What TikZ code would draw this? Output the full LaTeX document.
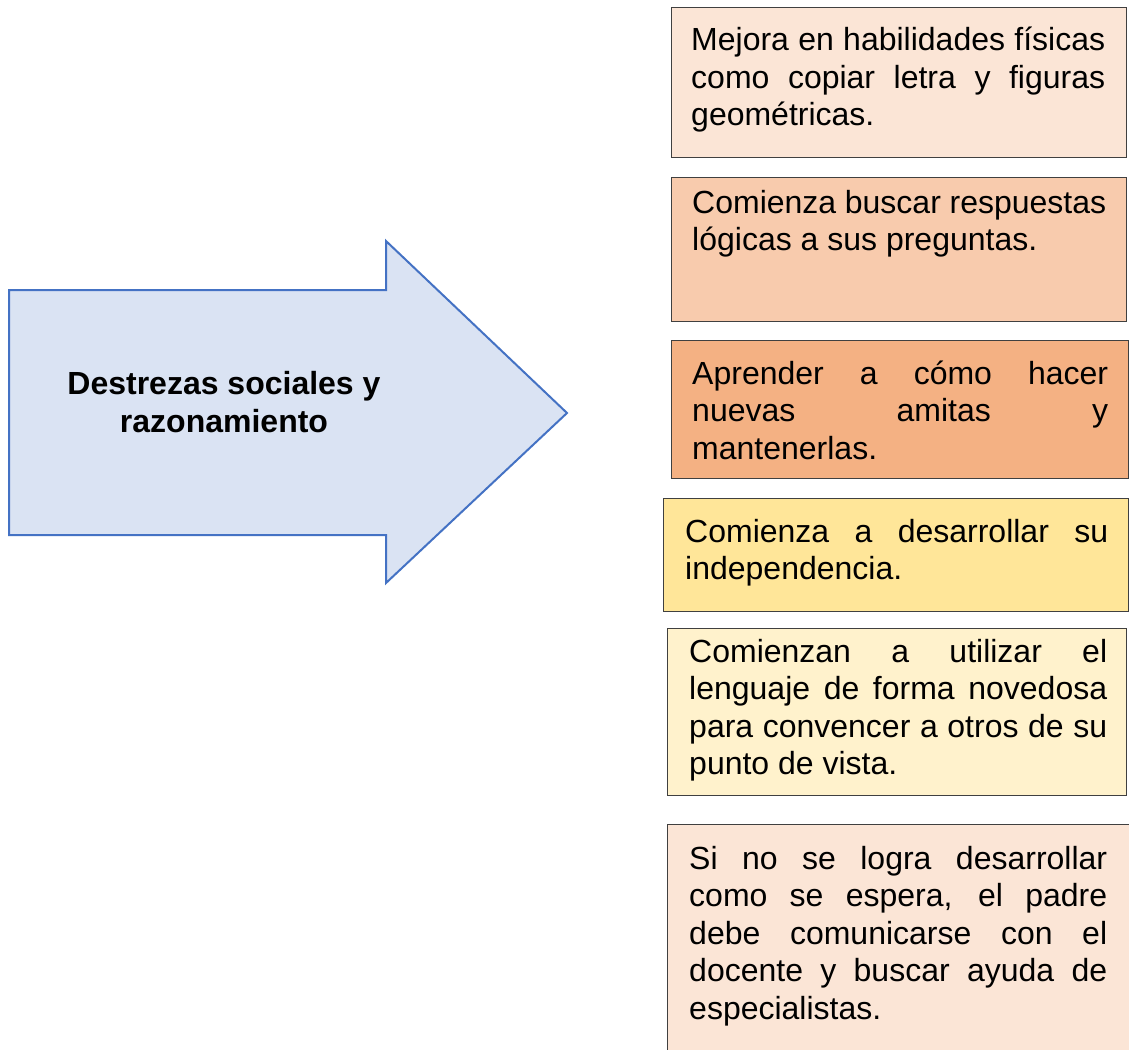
\documentclass[tikz,border=0pt]{standalone}
\usepackage{fontspec}
\setmainfont{Liberation Sans}
\usetikzlibrary{calc}

\definecolor{arrowline}{HTML}{4472C4}
\definecolor{arrowfill}{HTML}{DAE3F3}
\definecolor{boxline}{HTML}{404040}
\definecolor{peachA}{HTML}{FBE5D6}
\definecolor{peachB}{HTML}{F8CBAD}
\definecolor{peachC}{HTML}{F4B183}
\definecolor{goldA}{HTML}{FFE699}
\definecolor{goldB}{HTML}{FFF2CC}

\tikzset{
  item/.style={draw=boxline,line width=1.3pt,anchor=north west,inner sep=0pt},
  itemtext/.style={anchor=base west,inner sep=0pt,align=justify,
    font=\fontsize{32}{37.5}\selectfont},
}

\begin{document}
\begin{tikzpicture}[x=1pt,y=-1pt]

  \useasboundingbox (0,0) rectangle (1129,1049);
  \fill [white] (0,0) rectangle (1129,1049);
  \clip (0,0) rectangle (1129,1049);

  % big arrow on the left
  \filldraw [draw=arrowline,fill=arrowfill,line width=2pt,line join=miter]
    (9,290) -- (386,290) -- (386,241) -- (567,413) -- (386,583) -- (386,535) -- (9,535) -- cycle;
  \node [align=center,anchor=base,inner sep=0pt,font=\bfseries\fontsize{32}{37.5}\selectfont]
    (destrezas) at (224,432) {Destrezas sociales y\\razonamiento};

  % boxes on the right
  \node [item,fill=peachA,minimum width=455,minimum height=150] (fisicas) at (671,7) {};
  \node [itemtext,text width=414] (fisicas_t) at (691,51)
    {Mejora en habilidades físicas\linebreak como copiar letra y figuras\linebreak geométricas.};

  \node [item,fill=peachB,minimum width=455,minimum height=144] (logicas) at (671,177) {};
  \node [itemtext,text width=414] (logicas_t) at (692,213)
    {Comienza buscar respuestas\linebreak lógicas a sus preguntas.};

  \node [item,fill=peachC,minimum width=457,minimum height=138] (amitas) at (671,340) {};
  \node [itemtext,text width=416] (amitas_t) at (692,384)
    {Aprender a cómo hacer\linebreak nuevas amitas y\linebreak mantenerlas.};

  \node [item,fill=goldA,minimum width=465,minimum height=113] (indep) at (663,498) {};
  \node [itemtext,text width=423] (indep_t) at (685,542)
    {Comienza a desarrollar su\linebreak independencia.};

  \node [item,fill=goldB,minimum width=459,minimum height=167] (lenguaje) at (667,628) {};
  \node [itemtext,text width=418] (lenguaje_t) at (689,662)
    {Comienzan a utilizar el\linebreak lenguaje de forma novedosa\linebreak para convencer a otros de su\linebreak punto de vista.};

  \node [item,fill=peachA,minimum width=480,minimum height=250] (ayuda) at (667,824) {};
  \node [itemtext,text width=418] (ayuda_t) at (689,869)
    {Si no se logra desarrollar\linebreak como se espera, el padre\linebreak debe comunicarse con el\linebreak docente y buscar ayuda de\linebreak especialistas.};

\end{tikzpicture}
\end{document}
